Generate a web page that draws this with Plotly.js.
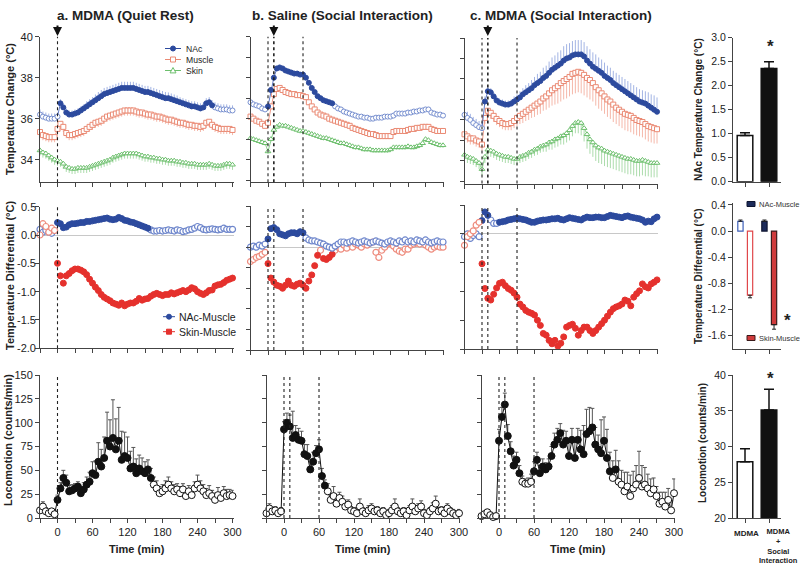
<!DOCTYPE html>
<html><head><meta charset="utf-8">
<script src="https://cdn.plot.ly/plotly-3.0.1.min.js"></script>
<style>html,body{margin:0;padding:0;background:#fff}#chart{width:800px;height:567px}</style>
</head><body><div id="chart"></div>
<script>
// ---------- DATA ----------
const timeMin = [-30,-25,-20,-15,-10,-5,0,5,10,15,20,25,30,35,40,45,50,55,60,65,70,75,80,85,90,95,100,105,110,115,120,125,130,135,140,145,150,155,160,165,170,175,180,185,190,195,200,205,210,215,220,225,230,235,240,245,250,255,260,265,270,275,280,285,290,295,300];

// a. MDMA (Quiet Rest) temperatures
const nacA = [36.2,36.1,36.05,36.0,36.0,36.0,36.1,36.75,36.55,36.3, 36.2,36.2,36.25,36.3,36.4,36.5,36.6,36.7,36.8,36.9, 37.0,37.1,37.2,37.25,37.3,37.35,37.4,37.45,37.5,37.5, 37.5,37.5,37.5,37.45,37.4,37.35,37.3,37.3,37.25,37.2, 37.15,37.1,37.05,37.0,37.0,36.95,36.9,36.85,36.8,36.75, 36.7,36.65,36.6,36.6,36.55,36.5,36.55,36.75,36.8,36.65, 36.55,36.5,36.45,36.45,36.45,36.4,36.4];
const nacAErr = [.25,.25,.25,.25,.25,.25,.2,.2,.2,.2, .2,.2,.2,.2,.2,.2,.25,.25,.25,.28, .3,.3,.3,.3,.3,.3,.3,.3,.3,.3, .3,.3,.3,.3,.3,.3,.3,.3,.3,.3, .3,.3,.3,.3,.28,.28,.28,.28,.25,.25, .25,.25,.25,.25,.25,.25,.25,.25,.25,.25, .25,.25,.25,.25,.25,.25,.25];
const muscleA = [35.35,35.2,35.15,35.1,35.1,35.1,35.5,35.75,35.6,35.3, 35.2,35.2,35.25,35.3,35.35,35.4,35.5,35.6,35.7,35.8, 35.85,35.9,36.0,36.1,36.15,36.2,36.25,36.3,36.35,36.4, 36.4,36.4,36.4,36.35,36.3,36.3,36.25,36.2,36.2,36.15, 36.1,36.1,36.05,36.0,35.95,35.95,35.9,35.85,35.8,35.8, 35.75,35.7,35.7,35.65,35.65,35.6,35.65,35.8,35.85,35.7, 35.6,35.55,35.5,35.5,35.5,35.5,35.45];
const muscleAErr = [.25,.25,.25,.25,.25,.25,.25,.25,.25,.25, .25,.25,.25,.25,.25,.25,.25,.25,.25,.25, .25,.25,.25,.25,.25,.25,.25,.25,.25,.25, .25,.25,.25,.25,.25,.25,.25,.25,.25,.25, .25,.25,.25,.25,.25,.25,.25,.25,.25,.25, .25,.25,.25,.25,.25,.25,.25,.25,.25,.25, .25,.25,.25,.25,.25,.25,.25];
const skinA = [34.45,34.35,34.3,34.2,34.1,34.0,33.95,33.9,33.8,33.65, 33.6,33.55,33.55,33.6,33.6,33.6,33.6,33.65,33.7,33.75, 33.8,33.85,33.9,33.95,34.0,34.1,34.15,34.2,34.25,34.3, 34.3,34.3,34.3,34.3,34.25,34.2,34.15,34.15,34.1,34.1, 34.05,34.05,34.0,34.0,33.95,33.95,33.95,33.9,33.9,33.85, 33.85,33.8,33.8,33.8,33.75,33.75,33.75,33.75,33.8,33.75, 33.7,33.7,33.7,33.75,33.8,33.8,33.75];
const skinAErr = [.25,.25,.25,.25,.25,.25,.25,.25,.25,.25, .25,.25,.25,.25,.25,.25,.25,.25,.25,.25, .25,.25,.25,.25,.25,.25,.25,.25,.25,.25, .25,.25,.25,.25,.25,.25,.25,.25,.25,.25, .25,.25,.25,.25,.25,.25,.25,.25,.25,.25, .25,.25,.25,.25,.25,.25,.25,.25,.25,.25, .25,.25,.25,.25,.25,.25,.25];

// b. Saline (Social Interaction) temperatures
const nacB = [36.8,36.7,36.65,36.6,36.5,36.45,36.6,37.4,38.0,38.45, 38.5,38.45,38.35,38.3,38.25,38.2,38.2,38.15,38.15,38.0, 37.75,37.5,37.3,37.1,37.0,36.9,36.85,36.8,36.75,36.6, 36.5,36.45,36.35,36.3,36.25,36.2,36.15,36.1,36.1,36.05, 36.05,36.0,36.0,36.05,36.05,36.05,36.1,36.1,36.1,36.15, 36.25,36.25,36.25,36.25,36.3,36.3,36.35,36.35,36.4,36.4, 36.45,36.45,36.3,36.25,36.2,36.2,36.15];
const nacBErr = [.1,.1,.1,.1,.1,.1,.1,.1,.1,.1, .1,.1,.1,.1,.1,.1,.1,.1,.1,.1, .1,.1,.1,.1,.1,.1,.1,.1,.1,.1, .1,.1,.1,.1,.1,.1,.1,.1,.1,.1, .1,.1,.1,.1,.1,.1,.1,.1,.1,.1, .1,.1,.1,.1,.1,.1,.1,.1,.1,.1, .1,.1,.1,.1,.1,.1,.1];
const muscleB = [36.1,36.0,35.9,35.85,35.75,35.65,35.8,36.6,37.2,37.45, 37.5,37.4,37.3,37.25,37.2,37.2,37.15,37.15,37.1,37.05, 36.8,36.6,36.45,36.3,36.2,36.15,36.1,36.0,35.95,35.9, 35.85,35.8,35.75,35.7,35.65,35.55,35.5,35.45,35.4,35.35, 35.3,35.25,35.25,35.2,35.15,35.15,35.15,35.15,35.15,35.35, 35.4,35.4,35.4,35.4,35.45,35.5,35.5,35.55,35.55,35.6, 35.6,35.6,35.5,35.45,35.4,35.4,35.4];
const muscleBErr = [.1,.1,.1,.1,.1,.1,.1,.1,.1,.1, .1,.1,.1,.1,.1,.1,.1,.1,.1,.1, .1,.1,.1,.1,.1,.1,.1,.1,.1,.1, .1,.1,.1,.1,.1,.1,.1,.1,.1,.1, .1,.1,.1,.1,.1,.1,.1,.1,.1,.1, .1,.1,.1,.1,.1,.1,.1,.1,.1,.1, .1,.1,.1,.1,.1,.1,.1];
const skinB = [35.05,35.0,34.95,34.9,34.85,34.8,34.4,35.0,35.45,35.6, 35.7,35.65,35.65,35.6,35.55,35.5,35.45,35.4,35.4,35.35, 35.3,35.25,35.2,35.15,35.1,35.05,35.05,35.0,34.95,34.9, 34.85,34.8,34.8,34.75,34.7,34.65,34.6,34.6,34.55,34.5, 34.5,34.5,34.45,34.45,34.45,34.45,34.45,34.45,34.5,34.6, 34.6,34.6,34.6,34.6,34.65,34.6,34.6,34.65,34.7,34.8, 35.0,34.95,34.85,34.8,34.75,34.7,34.7];
const skinBErr = [.12,.12,.12,.12,.12,.12,.12,.12,.12,.12, .12,.12,.12,.12,.12,.12,.12,.12,.12,.12, .12,.12,.12,.12,.12,.12,.12,.12,.12,.12, .12,.12,.12,.12,.12,.12,.12,.12,.12,.12, .12,.12,.12,.12,.12,.12,.12,.12,.12,.12, .12,.12,.12,.12,.12,.12,.12,.12,.12,.12, .12,.12,.12,.12,.12,.12,.12];

// c. MDMA (Social Interaction) temperatures
const nacC = [36.25,36.1,36.0,35.85,35.75,35.65,35.6,36.9,37.4,37.35, 37.15,36.95,36.85,36.8,36.75,36.75,36.8,36.9,37.0,37.1, 37.25,37.35,37.45,37.55,37.7,37.8,37.9,38.05,38.15,38.3, 38.45,38.55,38.65,38.75,38.9,39.0,39.05,39.15,39.2,39.2, 39.2,39.1,38.9,38.75,38.6,38.5,38.4,38.3,38.15,38.05, 37.95,37.8,37.7,37.6,37.5,37.4,37.3,37.2,37.1,37.0, 36.9,36.85,36.8,36.7,36.6,36.5,36.4];
const nacCErr = [.3,.3,.3,.3,.3,.3,.3,.25,.2,.2, .2,.2,.2,.2,.2,.2,.2,.25,.25,.3, .3,.35,.35,.4,.4,.45,.45,.5,.5,.55, .6,.6,.65,.65,.7,.7,.7,.7,.7,.7, .7,.7,.7,.7,.7,.7,.65,.65,.65,.6, .6,.6,.6,.6,.6,.6,.6,.6,.6,.6, .6,.6,.6,.65,.65,.7,.7];
const muscleC = [35.3,35.2,35.1,35.1,35.0,34.95,34.8,36.1,36.45,36.35, 36.2,36.05,35.95,35.85,35.8,35.8,35.85,35.95,36.1,36.2, 36.3,36.4,36.5,36.6,36.7,36.8,36.9,37.05,37.15,37.3, 37.45,37.55,37.65,37.8,37.9,38.0,38.1,38.25,38.3,38.35, 38.3,38.2,38.05,37.95,37.8,37.6,37.45,37.3,37.15,37.0, 36.9,36.75,36.6,36.5,36.4,36.3,36.25,36.2,36.1,36.0, 35.95,35.9,35.8,35.7,35.65,35.6,35.55];
const muscleCErr = [.3,.3,.3,.3,.3,.3,.3,.3,.3,.3, .3,.3,.3,.3,.3,.3,.35,.35,.4,.4, .45,.45,.5,.5,.55,.55,.6,.6,.65,.7, .75,.8,.85,.9,.9,.95,.95,1.0,1.0,1.0, 1.0,1.0,.95,.95,.9,.9,.9,.85,.85,.85, .85,.85,.8,.8,.8,.8,.8,.8,.8,.75, .75,.75,.75,.75,.75,.75,.7];
const skinC = [34.3,34.2,34.15,34.1,34.0,33.9,33.6,34.2,34.55,34.5, 34.45,34.35,34.3,34.25,34.2,34.2,34.15,34.1,34.1,34.2, 34.25,34.3,34.4,34.45,34.55,34.6,34.7,34.75,34.8,34.9, 34.95,35.05,35.1,35.2,35.25,35.35,35.5,35.7,35.85,35.9, 35.85,35.6,35.3,35.05,34.9,34.75,34.65,34.6,34.5,34.45, 34.4,34.35,34.3,34.25,34.2,34.15,34.1,34.1,34.05,34.0, 34.0,34.05,34.0,33.95,33.9,33.9,33.9];
const skinCErr = [.3,.3,.3,.3,.3,.3,.3,.3,.3,.3, .3,.3,.3,.3,.3,.3,.3,.3,.3,.3, .3,.3,.3,.3,.3,.3,.3,.3,.35,.35, .4,.4,.4,.4,.45,.45,.5,.5,.5,.55, .6,.65,.7,.7,.7,.75,.75,.75,.75,.75, .75,.75,.75,.75,.75,.75,.75,.75,.75,.75, .75,.75,.75,.7,.7,.7,.7];

// temperature differentials
const nacMusA = [0.1,0.05,0.08,0.05,0.03,0.08,0.22,0.2,0.13,0.14, 0.18,0.2,0.2,0.21,0.22,0.22,0.24,0.24,0.25,0.26, 0.27,0.28,0.29,0.3,0.28,0.27,0.28,0.31,0.29,0.26, 0.25,0.23,0.22,0.2,0.18,0.16,0.14,0.12,0.09,0.07, 0.07,0.08,0.07,0.08,0.09,0.08,0.07,0.09,0.08,0.06, 0.07,0.09,0.1,0.12,0.15,0.13,0.1,0.09,0.1,0.11, 0.1,0.09,0.1,0.12,0.1,0.1,0.1];
const skinMusA = [0.0,0.2,0.15,0.05,0.12,0.08,-0.5,-0.72,-0.85,-0.72, -0.68,-0.63,-0.6,-0.6,-0.62,-0.65,-0.7,-0.78,-0.85,-0.92, -0.98,-1.05,-1.1,-1.13,-1.16,-1.2,-1.22,-1.24,-1.2,-1.25, -1.22,-1.2,-1.2,-1.17,-1.12,-1.15,-1.13,-1.12,-1.08,-1.05, -1.03,-1.05,-1.07,-1.05,-1.05,-1.02,-1.04,-1.02,-1.0,-0.98, -1.0,-0.97,-0.93,-0.95,-1.0,-1.03,-1.05,-1.02,-0.98,-0.97, -0.9,-0.88,-0.87,-0.84,-0.8,-0.78,-0.76];
const nacMusB = [0.0,0.01,0.0,0.02,0.01,0.03,0.08,0.18,0.19,0.17, 0.13,0.12,0.11,0.13,0.14,0.14,0.13,0.15,0.14,0.09, 0.07,0.06,0.06,0.05,0.04,0.03,0.01,0.0,-0.01,0.01, 0.03,0.05,0.05,0.04,0.05,0.06,0.05,0.04,0.05,0.06, 0.05,0.04,0.05,0.06,0.05,0.04,0.03,0.05,0.06,0.05, 0.04,0.06,0.05,0.07,0.05,0.06,0.05,0.07,0.06,0.05, 0.07,0.05,0.04,0.05,0.06,0.05,0.05];
const skinMusB = [-0.14,-0.12,-0.1,-0.09,-0.07,-0.05,-0.16,-0.3,-0.34,-0.37, -0.38,-0.4,-0.37,-0.33,-0.37,-0.38,-0.36,-0.35,-0.37,-0.4, -0.33,-0.27,-0.18,-0.08,-0.03,-0.11,-0.12,-0.1,-0.07,-0.03, 0.0,-0.02,0.02,-0.01,0.03,0.0,0.03,0.02,0.0,0.03, 0.02,0.04,0.05,-0.05,-0.1,-0.03,0.0,0.03,0.04,0.01, -0.02,-0.04,-0.05,-0.02,-0.02,0.02,0.03,0.04,0.03,0.05, 0.02,0.0,-0.02,0.0,0.01,0.0,0.0];
const nacMusC = [-0.05,0.0,-0.08,-0.03,0.0,-0.05,0.23,0.38,0.32,0.24, 0.18,0.18,0.2,0.21,0.22,0.24,0.25,0.26,0.27,0.26, 0.25,0.24,0.22,0.2,0.2,0.22,0.23,0.24,0.24,0.25, 0.26,0.26,0.27,0.25,0.24,0.26,0.28,0.27,0.26,0.25, 0.24,0.27,0.29,0.28,0.28,0.29,0.29,0.28,0.28,0.3, 0.32,0.31,0.3,0.29,0.28,0.3,0.31,0.29,0.28,0.27, 0.26,0.24,0.2,0.22,0.21,0.26,0.29];
const skinMusC = [-0.2,-0.05,0.0,0.05,0.15,0.2,-0.52,-0.95,-1.12,-1.15, -1.05,-0.94,-0.86,-0.84,-0.9,-0.95,-0.98,-1.03,-1.1,-1.22, -1.27,-1.33,-1.36,-1.38,-1.41,-1.5,-1.59,-1.73,-1.76,-1.85, -1.91,-1.85,-1.95,-1.9,-1.79,-1.62,-1.59,-1.57,-1.64,-1.76, -1.68,-1.62,-1.62,-1.68,-1.73,-1.68,-1.62,-1.56,-1.5,-1.43, -1.36,-1.3,-1.27,-1.25,-1.22,-1.15,-1.17,-1.25,-1.1,-1.04, -0.99,-0.87,-0.92,-0.94,-0.87,-0.84,-0.8];

// locomotion (counts/min)
const locoA = [8,12,7,5,7,4,19,31,42,37, 28,29,31,33,26,30,35,38,47,45, 59,54,63,81,75,84,72,81,61,65, 63,52,54,47,52,49,47,51,42,35, 31,26,28,31,35,31,28,30,26,30, 23,28,24,31,35,31,28,24,26,23, 19,24,21,26,23,24,23];
const locoAErr = [3,5,4,3,3,4,5,6,8,8, 6,6,5,5,6,7,8,10,12,15, 20,18,22,30,28,40,32,35,30,25, 22,18,20,15,14,14,12,10,10,8, 8,7,7,8,8,7,7,6,7,6, 7,6,7,7,10,8,7,7,8,6, 7,8,6,7,7,6,6];
const locoB = [5,10,7,8,5,7,93,100,96,84, 87,82,81,67,65,51,59,68,72,44, 34,28,19,23,15,21,17,12,14,8, 7,5,12,7,5,8,10,7,8,5, 7,3,5,8,12,7,5,7,3,8, 12,7,10,12,5,3,7,10,15,7, 8,5,10,7,5,3,5];
const locoBErr = [4,5,4,4,3,4,8,10,12,28, 10,12,10,10,12,10,10,8,10,8, 6,8,6,10,8,6,6,5,5,4, 4,4,8,4,4,5,5,4,4,4, 4,4,4,5,8,4,4,4,4,5, 8,4,5,6,4,4,4,6,8,4, 4,4,5,4,4,4,4];
const locoC = [2,4,6,3,1,2,81,106,119,86, 70,55,61,47,38,36,36,38,49,61, 47,54,51,54,65,77,82,89,77,81, 65,82,63,82,72,67,88,91,95,77, 72,68,81,63,49,42,51,38,35,28, 33,23,31,35,42,33,35,31,26,30, 23,15,17,12,19,8,26];
const locoCErr = [3,3,3,3,3,3,12,10,12,12, 10,10,8,8,6,5,6,8,10,8, 8,8,7,8,10,12,12,10,15,10, 15,12,18,12,20,30,26,25,20,18, 15,35,25,30,20,18,20,22,15,20, 15,22,18,20,28,22,18,15,15,12, 10,12,10,15,12,10,15];

// significant (filled-marker) time windows, minutes
const sigNacA = [[5,265]], sigMusA = [], sigSkinA = [];
const sigNacB = [[0,110]], sigMusB = [], sigSkinB = [];
const sigNacC = [[5,300]], sigMusC = [], sigSkinC = [];
const sigNacMusA = [[0,155]], sigSkinMusA = [[0,300]];
const sigNacMusB = [[0,60]],  sigSkinMusB = [[0,85],[95,110]];
const sigNacMusC = [[0,10],[30,300]], sigSkinMusC = [[0,300]];
const sigLocoA = [[0,160]], sigLocoB = [[0,70]], sigLocoC = [[0,35],[60,190],[200,200]];

// event markers (min)
const eventsA = [0], eventsB = [0,10,60], eventsC = [0,10,60];
const arrowA = 0, arrowB = 10, arrowC = 10;

// summary bars
const barGroups = ['MDMA', 'MDMA<br>+<br>Social<br>Interaction'];
const nacChange = [0.96, 2.36], nacChangeErr = [0.06, 0.14];
const diffNacMus = [0.15, 0.15], diffNacMusErr = [0.02, 0.02];
const diffSkinMus = [-0.98, -1.43], diffSkinMusErr = [0.04, 0.07];
const locoMean = [27.9, 35.1], locoMeanErr = [1.8, 2.9];

// ---------- LAYOUT HELPERS ----------
const W = 800, H = 567;
const FONT = 'Liberation Sans, Arial, sans-serif';
const dx = (l, r) => [l / W, r / W];
const dy = (t, b) => [1 - b / H, 1 - t / H];
const inSig = (t, ints) => ints.some(([a, b]) => t >= a && t <= b);
const axName = (p, n) => n === 1 ? p : p + n;

const C = {
  nac:  {fill:'#2c4a9e', open:'#7890d0', err:'#a3b4e4', line:'#5f78c2', symbol:'circle'},
  mus:  {fill:'#e9806a', open:'#ea8a74', err:'#f5b8aa', line:'#ee9a88', symbol:'square'},
  skin: {fill:'#62b862', open:'#6cbf6c', err:'#acdcac', line:'#8fcf8f', symbol:'triangle-up'},
  dNac: {fill:'#2c4a9e', open:'#6f87cc'},
  dSkin:{fill:'#e5312d', open:'#ee8c7e'}
};

const traces = [];
function tempSeries(n, y, ep, em, sig, st) {
  const xa = axName('x', n), ya = axName('y', n);
  const zeros = y.map(() => 0);
  traces.push({type:'scatter', x:timeMin, y:y, xaxis:xa, yaxis:ya, mode:'lines',
    line:{color:st.line, width:1}, hoverinfo:'skip', cliponaxis:false,
    error_y:{type:'data', symmetric:false, array:ep || zeros, arrayminus:em || zeros,
             color:st.err, thickness:1, width:0}});
  traces.push({type:'scatter', x:timeMin, y:y.map((v,i) => inSig(timeMin[i], sig) ? null : v),
    xaxis:xa, yaxis:ya, mode:'markers', cliponaxis:false,
    marker:{symbol:st.symbol, size:5, color:'white', line:{color:st.open, width:1}}});
  traces.push({type:'scatter', x:timeMin, y:y.map((v,i) => inSig(timeMin[i], sig) ? v : null),
    xaxis:xa, yaxis:ya, mode:'markers', cliponaxis:false,
    marker:{symbol:st.symbol, size:5, color:st.fill, line:{color:st.fill, width:1}}});
}
function diffSeries(n, y, sig, st) {
  const xa = axName('x', n), ya = axName('y', n);
  traces.push({type:'scatter', x:timeMin, y:y.map((v,i) => inSig(timeMin[i], sig) ? null : v),
    xaxis:xa, yaxis:ya, mode:'markers', cliponaxis:false,
    marker:{symbol:'circle', size:6, color:'white', line:{color:st.open, width:1.2}}});
  traces.push({type:'scatter', x:timeMin, y:y.map((v,i) => inSig(timeMin[i], sig) ? v : null),
    xaxis:xa, yaxis:ya, mode:'markers', cliponaxis:false,
    marker:{symbol:'circle', size:6, color:st.fill, line:{color:st.fill, width:1}}});
}
function locoSeries(n, y, ep, sig) {
  const xa = axName('x', n), ya = axName('y', n);
  const zeros = y.map(() => 0);
  traces.push({type:'scatter', x:timeMin, y:y, xaxis:xa, yaxis:ya, mode:'lines',
    line:{color:'#111', width:1}, hoverinfo:'skip', cliponaxis:false,
    error_y:{type:'data', symmetric:false, array:ep, arrayminus:zeros, color:'#555', thickness:1, width:2}});
  traces.push({type:'scatter', x:timeMin, y:y.map((v,i) => inSig(timeMin[i], sig) ? null : v),
    xaxis:xa, yaxis:ya, mode:'markers', cliponaxis:false,
    marker:{symbol:'circle', size:7, color:'white', line:{color:'#111', width:1}}});
  traces.push({type:'scatter', x:timeMin, y:y.map((v,i) => inSig(timeMin[i], sig) ? v : null),
    xaxis:xa, yaxis:ya, mode:'markers', cliponaxis:false,
    marker:{symbol:'circle', size:7, color:'#111', line:{color:'#111', width:1}}});
}

// top row
tempSeries(1, skinA, null, skinAErr, sigSkinA, C.skin);
tempSeries(1, muscleA, null, muscleAErr, sigMusA, C.mus);
tempSeries(1, nacA, nacAErr, null, sigNacA, C.nac);
tempSeries(2, skinB, null, skinBErr, sigSkinB, C.skin);
tempSeries(2, muscleB, null, muscleBErr, sigMusB, C.mus);
tempSeries(2, nacB, nacBErr, null, sigNacB, C.nac);
tempSeries(3, skinC, null, skinCErr, sigSkinC, C.skin);
tempSeries(3, muscleC, null, muscleCErr, sigMusC, C.mus);
tempSeries(3, nacC, nacCErr, null, sigNacC, C.nac);
// middle row
diffSeries(4, nacMusA, sigNacMusA, C.dNac);
diffSeries(4, skinMusA, sigSkinMusA, C.dSkin);
diffSeries(5, skinMusB, sigSkinMusB, C.dSkin);
diffSeries(5, nacMusB, sigNacMusB, C.dNac);
diffSeries(6, nacMusC, sigNacMusC, C.dNac);
diffSeries(6, skinMusC, sigSkinMusC, C.dSkin);
// bottom row
locoSeries(7, locoA, locoAErr, sigLocoA);
locoSeries(8, locoB, locoBErr, sigLocoB);
locoSeries(9, locoC, locoCErr, sigLocoC);

// bars
const barX = [0, 1];
traces.push({type:'bar', x:barX, y:nacChange, xaxis:'x10', yaxis:'y10', width:0.65,
  marker:{color:['white','#111'], line:{color:'#111', width:1.5}},
  error_y:{type:'data', symmetric:false, array:nacChangeErr, arrayminus:[0,0], color:'#111', thickness:1.5, width:5}});
traces.push({type:'bar', x:barX, y:diffNacMus, xaxis:'x11', yaxis:'y11', width:0.22, offset:-0.3,
  marker:{color:['white','#1c2b5a'], line:{color:['#3d5fb8','#0e1530'], width:1.2}},
  error_y:{type:'data', symmetric:false, array:diffNacMusErr, arrayminus:[0,0], color:'#222', thickness:1, width:2}});
traces.push({type:'bar', x:barX, y:diffSkinMus, xaxis:'x11', yaxis:'y11', width:0.22, offset:0.1,
  marker:{color:['white','#cf3b3c'], line:{color:['#e0474a','#3a1a1a'], width:1.2}},
  error_y:{type:'data', symmetric:false, array:[0,0], arrayminus:diffSkinMusErr, color:'#222', thickness:1, width:2}});
traces.push({type:'bar', x:barX, y:locoMean, xaxis:'x12', yaxis:'y12', width:0.65,
  marker:{color:['white','#111'], line:{color:'#111', width:1.5}},
  error_y:{type:'data', symmetric:false, array:locoMeanErr, arrayminus:[0,0], color:'#111', thickness:1.5, width:5}});

// ---------- AXES ----------
const baseAx = {showgrid:false, zeroline:false, showline:true, linecolor:'#444', linewidth:1,
  ticks:'outside', ticklen:4, tickwidth:1, tickcolor:'#444', fixedrange:true, tickangle:0,
  tickfont:{family:FONT, size:11, color:'#222'}};
const timeTicks = [-30,0,30,60,90,120,150,180,210,240,270,300];
const timeText = ['','0','','60','','120','','180','','240','','300'];
const panelX = {1:[40,233.7], 2:[250.5,444.2], 3:[464.5,658.2], 4:[40,233.7], 5:[250.5,444.2], 6:[464.5,658.2],
                7:[40,233.7], 8:[266.5,460.2], 9:[481.5,675.2]};
const panelY = {1:[36.7,182.2], 2:[36.7,182.2], 3:[38,183.5], 4:[206.7,348.3], 5:[206,350], 6:[205,349],
                7:[375,518], 8:[375,518], 9:[375,518]};
const yCfg = {
  1:{range:[32.9,40], tickvals:[34,36,38,40], showticklabels:true},
  2:{range:[32.9,40], tickvals:[33,34,35,36,37,38,39,40], showticklabels:false},
  3:{range:[32.9,40], tickvals:[33,34,35,36,37,38,39,40], showticklabels:false},
  4:{range:[-2,0.5], tickvals:[-2,-1.5,-1,-0.5,0,0.5], showticklabels:false},
  5:{range:[-1,0.4], tickvals:[-1,-0.8,-0.6,-0.4,-0.2,0,0.2,0.4], showticklabels:false},
  6:{range:[-2,0.5], tickvals:[-2,-1.5,-1,-0.5,0,0.5], showticklabels:false},
  7:{range:[0,150], tickvals:[0,25,50,75,100,125,150], showticklabels:true},
  8:{range:[0,150], tickvals:[0,25,50,75,100,125,150], showticklabels:false},
  9:{range:[0,150], tickvals:[0,25,50,75,100,125,150], showticklabels:false}
};
const diffTickVals = [-2,-1.5,-1,-0.5,0,0.5];
const diffTickText = ['-2.0','-1.5','-1.0','-0.5','0.0','0.5'];
const layout = {width:W, height:H, margin:{l:0,r:0,t:0,b:0}, paper_bgcolor:'white', plot_bgcolor:'rgba(0,0,0,0)',
  showlegend:false, barmode:'overlay', font:{family:FONT, color:'#222'}, shapes:[], annotations:[]};

for (let n = 1; n <= 9; n++) {
  const xk = n === 1 ? 'xaxis' : 'xaxis' + n, yk = n === 1 ? 'yaxis' : 'yaxis' + n;
  layout[xk] = Object.assign({}, baseAx, {domain:dx(...panelX[n]), range:[-30,302], anchor:axName('y', n),
    tickmode:'array', tickvals:timeTicks, ticktext:timeText, showticklabels:n >= 7});
  layout[yk] = Object.assign({}, baseAx, {domain:dy(...panelY[n]), anchor:axName('x', n), tickmode:'array'}, yCfg[n]);
  if (n >= 4 && n <= 6) Object.assign(layout[yk], {zeroline:true, zerolinecolor:'#c8c8c8', zerolinewidth:1});
}
const barXDom = dx(733, 781);
layout.xaxis10 = Object.assign({}, baseAx, {domain:barXDom, range:[-0.5,1.5], anchor:'y10', tickmode:'array', tickvals:[0,1], showticklabels:false});
layout.yaxis10 = Object.assign({}, baseAx, {domain:dy(37.7,181.7), range:[0,3], anchor:'x10', tickmode:'array',
  tickvals:[0,0.5,1,1.5,2,2.5,3], ticktext:['0.0','0.5','1.0','1.5','2.0','2.5','3.0'], tickfont:{family:FONT,size:10.5,color:'#222'}});
layout.xaxis11 = Object.assign({}, baseAx, {domain:barXDom, range:[-0.5,1.5], anchor:'y11', tickmode:'array', tickvals:[0,1], showticklabels:false});
layout.yaxis11 = Object.assign({}, baseAx, {domain:dy(203,348.8), range:[-1.8,0.43], anchor:'x11', tickmode:'array',
  tickvals:[-1.6,-1.2,-0.8,-0.4,0,0.4], ticktext:['-1.6','-1.2','-0.8','-0.4','0.0','0.4'], tickfont:{family:FONT,size:10.5,color:'#222'}});
layout.xaxis12 = Object.assign({}, baseAx, {domain:barXDom, range:[-0.5,1.5], anchor:'y12', tickmode:'array', tickvals:[0,1], showticklabels:false});
layout.yaxis12 = Object.assign({}, baseAx, {domain:dy(375,518.3), range:[20,40], anchor:'x12', tickmode:'array',
  tickvals:[20,25,30,35,40], tickfont:{family:FONT,size:10.5,color:'#222'}});

// event lines
const evs = {1:eventsA, 4:eventsA, 7:eventsA, 2:eventsB, 5:eventsB, 8:eventsB, 3:eventsC, 6:eventsC, 9:eventsC};
for (const n in evs) {
  for (const v of evs[n]) {
    layout.shapes.push({type:'line', xref:axName('x', +n), yref:axName('y', +n) + ' domain', x0:v, x1:v, y0:0, y1:1,
      line:{color:'#222', width:(v === 10 && +n <= 3) ? 1.6 : 1.1, dash:'dot'}});
  }
}
// injection arrows
[[1, arrowA], [2, arrowB], [3, arrowC]].forEach(([n, v]) => {
  layout.annotations.push({xref:axName('x', n), yref:'paper', x:v, y:1 - 36/H, ax:0, ay:-12, text:'',
    showarrow:true, arrowhead:2, arrowsize:0.9, arrowwidth:2, arrowcolor:'#111'});
});

// text helpers
function txt(x, y, text, size, opts) {
  layout.annotations.push(Object.assign({xref:'paper', yref:'paper', x:x / W, y:1 - y / H, text:text, showarrow:false,
    xanchor:'center', yanchor:'middle', font:{family:FONT, size:size, color:'#222'}}, opts || {}));
}
// tick labels of the left differential axis, placed at their axis values
diffTickVals.forEach((v, i) => {
  layout.annotations.push({xref:'paper', yref:'y4', x:37 / W, y:v, text:diffTickText[i], showarrow:false,
    xanchor:'right', yanchor:'middle', borderpad:0, font:{family:FONT, size:11, color:'#222'}});
});
txt(125, 15, '<b>a. MDMA (Quiet Rest)</b>', 13.5);
txt(342, 15, '<b>b. Saline (Social Interaction)</b>', 13.5);
txt(561, 15, '<b>c. MDMA (Social Interaction)</b>', 13.5);
txt(10, 109, '<b>Temperature Change (°C)</b>', 11, {textangle:-90});
txt(10, 276, '<b>Temperature Differential (°C)</b>', 11, {textangle:-90});
txt(8, 440, '<b>Locomotion (counts/min)</b>', 11, {textangle:-90});
txt(698, 110, '<b>NAc Temperature Change (°C)</b>', 10, {textangle:-90});
txt(698, 276, '<b>Temperature Differential (°C)</b>', 10, {textangle:-90});
txt(702, 443, '<b>Locomotion (counts/min)</b>', 10, {textangle:-90});
txt(137, 549, '<b>Time (min)</b>', 11);
txt(363, 549, '<b>Time (min)</b>', 11);
txt(578, 549, '<b>Time (min)</b>', 11);
txt(770, 46, '<b>*</b>', 17);
txt(787, 320, '<b>*</b>', 17);
txt(770, 378, '<b>*</b>', 17);
// group labels under the locomotion bars
txt(746, 533, '<b>' + barGroups[0] + '</b>', 8, {borderpad:0});
txt(778.5, 565.5, '<b>' + barGroups[1] + '</b>', 7.5, {yanchor:'bottom', borderpad:0});

// legend builders (decorative swatches)
function legSym(px, py, type, fill, stroke, size) {
  const s = size / 2;
  const base = {xref:'paper', yref:'paper', xsizemode:'pixel', ysizemode:'pixel', xanchor:px / W, yanchor:1 - py / H,
    fillcolor:fill, line:{color:stroke, width:1}};
  if (type === 'circle') layout.shapes.push(Object.assign(base, {type:'circle', x0:-s, x1:s, y0:-s, y1:s}));
  else if (type === 'square') layout.shapes.push(Object.assign(base, {type:'rect', x0:-s, x1:s, y0:-s, y1:s}));
  else layout.shapes.push(Object.assign(base, {type:'path', path:`M${-s},${-s * 0.8} L${s},${-s * 0.8} L0,${s} Z`}));
}
function legLine(x0, x1, py, color) {
  layout.shapes.push({type:'line', xref:'paper', yref:'paper', x0:x0 / W, x1:x1 / W, y0:1 - py / H, y1:1 - py / H,
    line:{color:color, width:1}});
}
legLine(165, 181, 48.5, C.nac.fill); legSym(173, 48.5, 'circle', C.nac.fill, C.nac.fill, 5);
legLine(165, 181, 59.5, C.mus.open); legSym(173, 59.5, 'square', 'white', C.mus.open, 5);
legLine(165, 181, 70.5, C.skin.open); legSym(173, 70.5, 'triangle', 'white', C.skin.open, 6);
txt(185, 59.5, 'NAc<br>Muscle<br>Skin', 8.6, {xanchor:'left', align:'left', borderpad:0});
legLine(163, 175, 316.7, C.dNac.fill); legSym(169, 316.7, 'circle', C.dNac.fill, C.dNac.fill, 5);
legLine(163, 175, 331.7, C.dSkin.fill); legSym(169, 331.7, 'square', C.dSkin.fill, C.dSkin.fill, 5);
txt(177, 316.7, 'NAc-Muscle', 10.5, {xanchor:'left'});
txt(177, 331.7, 'Skin-Muscle', 10.5, {xanchor:'left'});
layout.shapes.push({type:'rect', xref:'paper', yref:'paper', x0:747 / W, x1:755 / W, y0:1 - 206.5 / H, y1:1 - 201.5 / H,
  fillcolor:'#1c2b5a', line:{color:'#0e1530', width:1}});
layout.shapes.push({type:'rect', xref:'paper', yref:'paper', x0:747 / W, x1:755 / W, y0:1 - 340.5 / H, y1:1 - 335.5 / H,
  fillcolor:'#cf3b3c', line:{color:'#3a1a1a', width:1}});
txt(756.5, 204, 'NAc-Muscle', 7.5, {xanchor:'left', font:{family:FONT, size:7.5, color:'#333'}});
txt(756.5, 338, 'Skin-Muscle', 7.5, {xanchor:'left', font:{family:FONT, size:7.5, color:'#333'}});

Plotly.newPlot('chart', traces, layout, {displayModeBar:false, staticPlot:true});
</script>
</body></html>
